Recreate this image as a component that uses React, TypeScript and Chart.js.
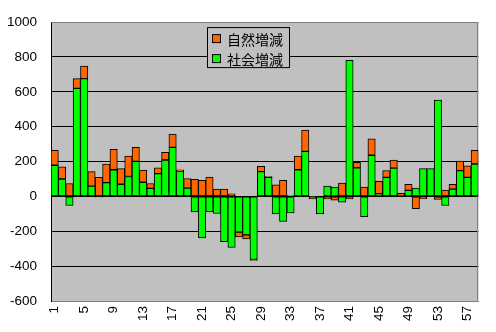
import React, { useEffect, useRef } from "react";
import { Chart, registerables } from "chart.js";

Chart.register(...registerables);

const categories: string[] = [
  "1", "2", "3", "4", "5", "6", "7", "8", "9", "10",
  "11", "12", "13", "14", "15", "16", "17", "18", "19", "20",
  "21", "22", "23", "24", "25", "26", "27", "28", "29", "30",
  "31", "32", "33", "34", "35", "36", "37", "38", "39", "40",
  "41", "42", "43", "44", "45", "46", "47", "48", "49", "50",
  "51", "52", "53", "54", "55", "56", "57", "58",
];

const xTickLabels: string[] = ["1", "5", "9", "13", "17", "21", "25", "29", "33", "37", "41", "45", "49", "53", "57"];

// 社会増減 (green)
const socialChange: number[] = [
  179, 100, -52, 620, 676, 59, -5, 79, 153, 70,
  114, 201, 81, 46, 131, 209, 281, 146, 48, -89,
  -238, -89, -98, -260, -293, -205, -221, -362, 142, 109,
  -100, -144, -94, 153, 258, -3, -100, 59, 54, -33,
  781, 164, -116, 236, 15, 109, 162, 3, 35, 48,
  159, 159, 552, -52, 42, 148, 109, 186,
];

// 自然増減 (orange)
const naturalChange: number[] = [
  85, 70, 74, 56, 72, 83, 110, 107, 117, 89,
  117, 80, 70, 28, 33, 44, 77, 7, 55, 98,
  92, 111, 42, 42, 15, -28, -23, -5, 30, 5,
  66, 92, 5, 78, 122, -12, 0, -15, -22, 76,
  -15, 32, 54, 94, 72, 39, 47, 14, 35, -70,
  -13, 0, -17, 37, 28, 55, 66, 78,
];

const yMin = -600;
const yMax = 1000;
const yStep = 200;

const seriesNames = { natural: "自然増減", social: "社会増減" };
const colors = { natural: "#FF6600", social: "#00FF00", plot: "#C0C0C0", frame: "#808080" };

const plotPlugin = {
  id: "plotDecor",
  beforeDraw(chart: any) {
    const { ctx, chartArea } = chart;
    ctx.save();
    ctx.fillStyle = "#FFFFFF";
    ctx.fillRect(0, 0, chart.width, chart.height);
    ctx.fillStyle = colors.plot;
    ctx.fillRect(chartArea.left, chartArea.top, chartArea.right - chartArea.left, chartArea.bottom - chartArea.top);
    ctx.restore();
  },
  beforeDatasetsDraw(chart: any) {
    const { ctx, chartArea } = chart;
    ctx.save();
    ctx.strokeStyle = colors.frame;
    ctx.lineWidth = 1;
    ctx.beginPath();
    ctx.moveTo(Math.round(chartArea.left) + 0.5, Math.round(chartArea.top) + 0.5);
    ctx.lineTo(Math.round(chartArea.right) - 0.5, Math.round(chartArea.top) + 0.5);
    ctx.lineTo(Math.round(chartArea.right) - 0.5, Math.round(chartArea.bottom) - 0.5);
    ctx.stroke();
    ctx.restore();
  },
  afterDraw(chart: any) {
    const { ctx, chartArea } = chart;
    const ds = chart.data.datasets;
    // Excel lists stacked series in reverse order
    const items = [ds[1], ds[0]];
    const bx = chartArea.left + 156;
    const by = chartArea.top + 5;
    const bw = 82;
    const bh = 40;
    ctx.save();
    ctx.fillStyle = colors.plot;
    ctx.fillRect(bx, by, bw, bh);
    ctx.strokeStyle = "#000";
    ctx.lineWidth = 1;
    ctx.strokeRect(bx + 0.5, by + 0.5, bw, bh);
    ctx.font = '14px "Noto Sans CJK JP", sans-serif';
    ctx.textBaseline = "middle";
    items.forEach((d: any, i: number) => {
      const cy = by + 12 + i * 20;
      ctx.fillStyle = d.backgroundColor;
      ctx.fillRect(bx + 5.5, cy - 4.5, 8, 8);
      ctx.strokeStyle = "#000";
      ctx.strokeRect(bx + 5.5, cy - 4.5, 8, 8);
      ctx.fillStyle = "#000";
      ctx.fillText(d.label, bx + 20, cy + 0.5);
    });
    ctx.restore();
  },
};

export default function App() {
  const ref = useRef<HTMLCanvasElement | null>(null);

  useEffect(() => {
    document.body.style.margin = "0";
    if (!ref.current) return;
    const chart = new Chart(ref.current, {
      type: "bar",
      data: {
        labels: categories,
        datasets: [
          {
            label: seriesNames.social,
            data: socialChange,
            backgroundColor: colors.social,
            borderColor: "#000",
            borderWidth: 1,
            borderSkipped: false,
            categoryPercentage: 1,
            barPercentage: 1,
          },
          {
            label: seriesNames.natural,
            data: naturalChange,
            backgroundColor: colors.natural,
            borderColor: "#000",
            borderWidth: 1,
            borderSkipped: false,
            categoryPercentage: 1,
            barPercentage: 1,
          },
        ],
      },
      options: {
        responsive: false,
        animation: false,
        devicePixelRatio: 1,
        layout: { padding: { top: 12, right: 4, left: 0, bottom: 0 } },
        plugins: {
          legend: { display: false },
          tooltip: { enabled: false },
        },
        scales: {
          x: {
            stacked: true,
            grid: { display: false, drawTicks: false },
            border: { display: true, color: colors.frame, width: 1 },
            ticks: {
              autoSkip: false,
              minRotation: 90,
              maxRotation: 90,
              padding: 5,
              color: "#000",
              font: { family: '"Liberation Sans", Arial, sans-serif', size: 13.5 },
              callback: function (this: any, value: any) {
                const lab = this.getLabelForValue(value);
                return xTickLabels.includes(lab) ? lab : "";
              },
            },
            afterFit(scale: any) {
              scale.height = 31;
            },
          },
          y: {
            stacked: true,
            min: yMin,
            max: yMax,
            grid: {
              drawTicks: false,
              lineWidth: 1,
              color: (ctx: any) => {
                const v = ctx.tick ? ctx.tick.value : 0;
                return v === yMin || v === yMax ? colors.frame : "#000";
              },
            },
            border: { display: true, color: "#000", width: 1 },
            ticks: {
              stepSize: yStep,
              padding: 14,
              color: "#000",
              font: { family: '"Liberation Sans", Arial, sans-serif', size: 13.5 },
              callback: (value: any) => String(value),
            },
            afterFit(scale: any) {
              scale.width = 51;
            },
          },
        },
      },
      plugins: [plotPlugin],
    });
    return () => chart.destroy();
  }, []);

  return (
    <div style={{ position: "absolute", left: 0, top: 0, width: 496, height: 332 }}>
      <canvas ref={ref} width={496} height={332} style={{ display: "block" }} />
    </div>
  );
}
